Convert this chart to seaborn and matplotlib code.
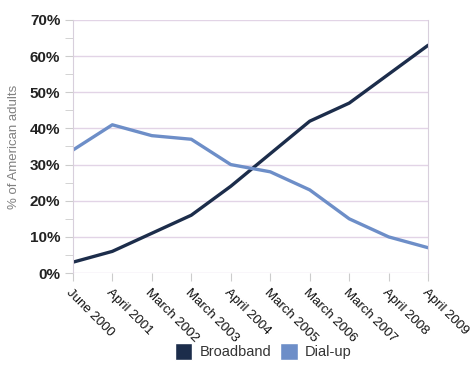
import pandas as pd
import matplotlib
matplotlib.use('Agg')
import matplotlib.pyplot as plt
import seaborn as sns
from matplotlib.patches import Patch
from matplotlib.ticker import MultipleLocator, FuncFormatter

dates = ['June 2000', 'April 2001', 'March 2002', 'March 2003', 'April 2004',
         'March 2005', 'March 2006', 'March 2007', 'April 2008', 'April 2009']
broadband = [3, 6, 11, 16, 24, 33, 42, 47, 55, 63]
dialup = [34, 41, 38, 37, 30, 28, 23, 15, 10, 7]

df = pd.DataFrame({'date': dates * 2,
                   'share': broadband + dialup,
                   'type': ['Broadband'] * len(dates) + ['Dial-up'] * len(dates)})

colors = {'Broadband': '#1c2d4b', 'Dial-up': '#6d8ec8'}

sns.set_style('white')
plt.rcParams['font.family'] = ['Liberation Sans', 'DejaVu Sans']

fig = plt.figure(figsize=(4.7, 3.69), dpi=100)
ax = fig.add_axes([0.155, 0.26, 0.756, 0.686])

sns.lineplot(data=df, x='date', y='share', hue='type', palette=colors,
             sort=False, linewidth=2.4, legend=False, ax=ax)

ax.set_xlim(0, len(dates) - 1)
ax.set_ylim(0, 70)
ax.yaxis.set_major_locator(MultipleLocator(10))
ax.yaxis.set_minor_locator(MultipleLocator(5))
ax.yaxis.set_major_formatter(FuncFormatter(lambda v, p: f'{int(v)}%'))
ax.grid(axis='y', which='major', color='#e2d4e6', linewidth=1)
ax.set_axisbelow(True)

for s in ['top', 'bottom']:
    ax.spines[s].set_visible(False)
ax.spines['left'].set_color('#d8cfdc')
ax.spines['right'].set_color('#d8cfdc')

ax.tick_params(axis='y', which='both', direction='out', length=6, color='#cccccc',
               labelsize=11, labelcolor='#222222', left=True, pad=3)
ax.tick_params(axis='x', direction='out', length=6, color='#cccccc', bottom=True,
               labelsize=9.5, labelcolor='#111111')
for lbl in ax.get_yticklabels():
    lbl.set_fontweight('bold')
plt.setp(ax.get_xticklabels(), rotation=-45, ha='left', rotation_mode='anchor')

ax.set_xlabel('')
ax.set_ylabel('% of American adults', color='#808080', fontsize=9.5, labelpad=7)

handles = [Patch(facecolor=colors[k], label=k) for k in ['Broadband', 'Dial-up']]
fig.legend(handles=handles, loc='lower center', bbox_to_anchor=(0.56, -0.012), ncol=2,
           frameon=False, fontsize=10.5, handlelength=1.2, handleheight=1.5,
           columnspacing=0.6, handletextpad=0.5, labelcolor='#333333')

fig.savefig('out.png', dpi=100, facecolor='white')
